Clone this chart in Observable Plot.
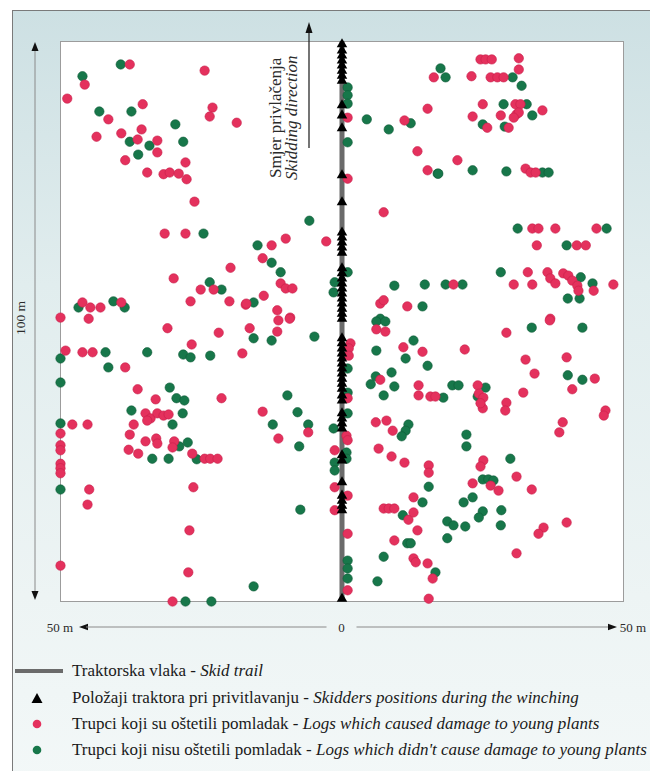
<!DOCTYPE html>
<html><head><meta charset="utf-8">
<script src="https://cdn.jsdelivr.net/npm/d3@7"></script>
<script src="https://cdn.jsdelivr.net/npm/@observablehq/plot@0.6"></script>
<style>
html,body{margin:0;padding:0;background:#fff;width:650px;height:771px;overflow:hidden;}
#frame{position:absolute;left:12px;top:10px;width:660px;height:780px;border-left:1px solid #7a7a7a;border-top:1px solid #7a7a7a;background:linear-gradient(#cde0e3 0%, #e1edee 35%, #edf4f4 75%, #f3f8f8 100%);}
#chart{position:absolute;left:0;top:0;}
#legend{position:absolute;left:12px;top:658px;font-family:"Liberation Serif",serif;font-size:17px;color:#1a1a1a;}
.row{display:flex;align-items:center;height:26.4px;white-space:nowrap;}
.row svg{flex:none;}
</style>
</head><body>
<div id="frame"></div>
<div id="chart"></div>
<div id="legend"></div>
<script>
// Field axes (m)
const xDomain = [-50, 50];
const yDomain = [0, 100];
const xLabels = ["50 m", "0", "50 m"];
const yLabel = "100 m";

// Logs which caused damage to young plants (red)
const redX = [
 -37.7,-24.4,-45.7,-48.8,-35.4,-41.5,-23.0,-23.5,-18.7,-43.6,-39.2,-35.6,-36.3,-32.8,-32.8,-38.5,-27.8,-34.6,-31.7,-30.6,-29.0,-27.6,-26.2,-31.5,-27.8,-19.8,-29.9,-25.1,-22.8,-26.9,-20.0,-17.1,-46.1,-44.7,-42.9,-39.2,-50.0,-45.0,
 1.0,1.0,-2.8,11.1,15.2,16.3,13.4,15.2,7.4,6.8,7.4,11.6,-12.5,-10.0,-14.1,-10.9,-10.0,-8.8,-13.9,-17.0,-11.5,-9.2,
 24.6,25.5,26.6,31.4,31.4,23.0,26.4,27.6,28.7,25.0,30.8,31.7,23.2,28.2,31.0,31.4,30.5,35.6,25.8,29.6,20.5,32.6,33.5,34.4,33.8,34.9,37.9,45.2,34.6,41.7,43.3,33.0,36.5,37.0,37.9,39.3,40.2,40.9,41.8,42.0,44.7,30.5,33.8,48.2,19.8,37.0,
 -31.0,-21.9,-49.1,-46.1,-44.3,-26.7,-17.7,-38.5,-36.3,-33.1,-21.4,-34.9,-34.0,-32.8,-31.7,-30.8,-34.6,-37.0,-47.9,-45.2,-50.0,-50.0,-50.0,-50.0,-50.0,-50.0,-37.7,-34.9,-33.0,-32.8,-29.8,-30.1,-37.9,-36.2,-26.6,-24.4,-23.4,-22.1,-44.9,-45.2,-26.4,-27.1,-50.0,-27.3,-30.1,
 -16.4,-11.3,-11.5,-9.3,-14.1,-6.0,-11.3,1.5,1.2,1.2,1.0,0.8,1.0,-1.3,-1.3,1.0,-1.3,1.0,1.0,6.1,7.7,10.9,14.3,6.8,13.6,13.6,15.7,16.6,6.0,7.9,9.0,6.5,8.8,11.1,15.4,15.4,12.7,7.4,8.3,9.3,11.8,12.7,13.4,9.3,12.7,13.1,15.2,16.1,15.4,
 29.2,36.9,21.8,32.6,39.9,34.2,44.9,40.9,32.2,24.1,24.3,25.1,25.0,24.6,29.2,29.0,46.8,46.5,39.2,38.6,25.1,24.6,23.2,26.4,27.8,31.0,33.7,35.8,34.9,39.9,31.0
];
const redY = [
 95.9,94.8,92.3,89.8,88.8,86.1,88.2,86.6,85.5,83.0,83.6,84.3,82.5,82.3,80.2,78.8,78.4,76.6,76.3,76.6,76.4,75.4,71.4,65.7,65.7,59.6,57.7,55.7,55.7,53.6,53.6,53.0,53.4,52.5,52.5,53.4,50.7,50.5,
 86.4,75.5,64.3,85.9,88.0,93.6,80.4,77.0,69.5,53.2,53.8,52.7,63.6,64.8,61.3,56.8,55.9,55.9,54.6,53.2,52.0,50.7,
 96.8,96.8,96.8,97.0,95.0,93.8,93.6,93.6,93.6,88.8,88.8,88.8,86.6,86.8,87.0,87.3,86.4,87.7,84.6,84.6,78.8,77.3,76.6,76.6,66.6,66.6,66.6,66.6,63.6,63.6,63.6,58.8,58.8,57.7,56.8,58.6,58.2,57.3,56.4,55.5,55.5,56.6,56.6,56.6,56.6,50.5,
 48.8,48.0,44.8,44.5,44.5,45.9,44.3,41.8,37.9,36.1,36.3,33.6,32.7,33.6,33.2,33.4,32.3,31.6,31.6,31.6,30.0,27.9,27.0,24.6,23.8,22.9,29.8,28.6,29.1,28.2,28.6,27.5,27.1,26.4,26.4,25.5,25.5,25.5,20.0,17.3,20.4,12.7,6.4,5.2,0.0,
 48.8,50.2,48.2,50.5,33.9,30.2,29.1,46.1,45.2,43.9,36.3,29.6,28.8,27.0,20.4,18.9,16.3,12.1,2.0,48.6,48.2,45.4,44.6,39.6,38.6,36.8,36.6,36.6,32.0,32.3,30.5,27.3,25.9,24.8,24.3,23.0,18.6,16.6,16.6,16.6,14.6,15.9,12.7,10.9,7.7,7.0,6.8,4.1,0.5,
 48.0,50.2,45.0,43.2,43.6,40.7,39.8,37.9,37.3,38.6,37.1,36.4,34.5,35.4,35.5,34.1,34.1,33.2,32.0,30.2,25.2,24.1,21.1,20.7,19.8,22.3,20.0,13.2,12.1,14.1,8.6
];

// Logs which didn't cause damage to young plants (green)
const greenX = [
 -39.3,-46.1,-43.1,-37.4,-29.6,-37.7,-34.2,-28.2,-36.2,-24.6,-23.5,-21.4,-46.8,-40.6,-38.6,
 1.0,1.0,1.0,1.0,-5.8,1.0,-1.3,-1.5,4.4,8.3,12.2,17.0,9.3,14.7,14.3,6.8,-15.0,-12.5,-10.9,-15.7,
 17.5,18.4,30.3,31.9,28.7,32.8,33.8,25.0,28.9,17.1,23.2,29.2,35.6,36.7,31.2,47.0,39.9,28.2,42.4,44.5,40.1,42.2,18.4,21.4,
 -50.0,-42.0,-34.6,-28.2,-26.9,-23.4,-41.5,-50.0,-30.6,-29.4,-28.0,-37.4,-28.3,-30.1,-50.0,-28.9,-27.4,-33.7,-30.8,-25.8,-50.0,-27.8,-23.2,
 -15.7,-12.5,-4.9,-9.7,-7.9,-12.3,-6.0,-7.6,-7.4,-15.7,1.0,1.0,1.0,-1.5,0.8,0.8,-1.3,-1.3,1.0,1.0,1.0,
 6.1,7.7,12.7,6.1,11.3,15.2,8.8,6.0,5.1,9.3,7.4,11.8,11.3,10.6,15.4,14.3,10.8,11.6,12.2,7.4,16.6,6.3,
 33.7,42.7,40.1,42.7,19.6,20.7,25.5,24.1,18.0,22.1,22.1,29.9,25.0,26.0,26.9,23.2,21.6,25.0,24.3,28.3,18.7,19.8,21.9,28.2,18.7
];
const greenY = [
 95.9,93.8,87.5,87.5,85.2,82.1,81.4,82.1,79.8,65.7,57.0,55.7,52.5,53.6,52.5,
 91.8,90.4,88.9,82.0,68.0,58.8,57.0,55.2,86.1,84.3,85.4,76.4,56.4,56.6,52.7,50.5,63.6,60.5,58.8,53.4,
 95.2,93.6,93.6,92.1,88.8,88.8,86.8,85.2,84.8,76.4,77.0,76.8,76.6,76.6,66.6,66.6,63.6,58.8,57.9,56.8,54.1,54.1,56.6,56.6,
 43.4,44.5,44.5,44.1,43.6,43.9,41.8,39.1,38.2,36.3,35.9,34.1,33.6,31.6,31.8,27.7,28.4,25.5,25.5,25.4,20.0,0.0,0.0,
 47.0,46.6,47.3,36.8,33.8,31.6,31.6,27.7,16.4,2.7,41.6,37.3,33.6,30.9,26.6,25.5,24.8,23.4,7.3,5.9,4.1,
 50.0,50.0,46.6,44.8,43.4,42.1,40.9,40.2,38.8,38.4,36.8,31.6,30.5,29.5,20.5,17.7,15.4,10.4,10.4,8.0,5.2,3.6,
 48.9,48.9,40.4,39.6,38.6,38.6,38.2,36.6,36.4,29.8,27.7,25.5,21.8,21.8,21.6,18.6,17.7,16.1,15.0,16.3,14.3,13.6,13.4,13.6,11.3
];

// Skidder positions during the winching (on the skid trail, x = 0)
const skidderY = [
 99.5,98.4,97.5,96.6,95.7,94.8,93.9,93.0,88.6,86.8,84.5,76.1,71.3,65.9,65.0,64.1,63.2,62.3,
 59.5,58.6,57.7,56.8,55.9,55.0,54.1,53.2,52.3,51.4,50.5,47.0,46.1,45.2,44.3,43.4,42.5,41.6,
 40.7,39.8,38.9,38.0,36.8,35.9,33.6,32.7,31.8,30.9,26.1,25.2,21.3,18.9,18.0,17.1,16.3,0.5
];
const trailX = [0];

const colors = {trail: "#6b6b6b", skidder: "#000000", damaged: "#e4315d", undamaged: "#17774a"};
const legendItems = [
 {key: "trail", hr: "Traktorska vlaka", en: "Skid trail"},
 {key: "skidder", hr: "Položaji traktora pri privitlavanju", en: "Skidders positions during the winching"},
 {key: "damaged", hr: "Trupci koji su oštetili pomladak", en: "Logs which caused damage to young plants"},
 {key: "undamaged", hr: "Trupci koji nisu oštetili pomladak", en: "Logs which didn't cause damage to young plants"}
];

const red = redX.map((x, i) => ({x, y: redY[i]}));
const green = greenX.map((x, i) => ({x, y: greenY[i]}));
const skidders = skidderY.map(y => ({x: trailX[0], y}));

const chart = Plot.plot({
  width: 650, height: 645,
  marginLeft: 60, marginRight: 27, marginTop: 41, marginBottom: 44,
  style: {background: "transparent", overflow: "visible"},
  x: {domain: xDomain, axis: null},
  y: {domain: yDomain, axis: null},
  marks: [
    Plot.frame({fill: "white", stroke: "#9c9c9c"}),
    Plot.ruleX(trailX, {stroke: colors.trail, strokeWidth: 5}),
    Plot.dot(green, {x: "x", y: "y", r: 4.7, fill: colors.undamaged, stroke: "#0f5a37", strokeWidth: 0.6}),
    Plot.dot(red, {x: "x", y: "y", r: 4.7, fill: colors.damaged, stroke: "#c81f4a", strokeWidth: 0.6}),
    Plot.dot(skidders, {x: "x", y: "y", symbol: "triangle", r: 3.9, fill: colors.skidder})
  ]
});
document.getElementById("chart").appendChild(chart);

// Annotations drawn from the scales
const sx = chart.scale("x"), sy = chart.scale("y");
const svgSel = d3.select(chart);
const serif = "Liberation Serif, serif";
const ann = svgSel.append("g").attr("text-anchor", "start");
const pxLeft = sx.apply(xDomain[0]), pxRight = sx.apply(xDomain[1]), pxMid = sx.apply(0);
const pxTop = sy.apply(yDomain[1]), pxBot = sy.apply(yDomain[0]);

// vertical 100 m arrow
const ax = pxLeft - 25;
ann.append("line").attr("x1", ax).attr("x2", ax).attr("y1", pxTop + 6).attr("y2", pxBot - 6).attr("stroke", "#8a8a8a").attr("stroke-width", 1);
ann.append("path").attr("d", `M${ax},${pxTop + 1}L${ax - 3.5},${pxTop + 10}L${ax + 3.5},${pxTop + 10}Z`).attr("fill", "#111");
ann.append("path").attr("d", `M${ax},${pxBot - 1}L${ax - 3.5},${pxBot - 10}L${ax + 3.5},${pxBot - 10}Z`).attr("fill", "#111");
ann.append("text").attr("transform", `translate(${ax - 10},${(pxTop + pxBot) / 2 - 3}) rotate(-90)`)
  .attr("text-anchor", "middle").attr("font-family", serif).attr("font-size", 13.5).attr("fill", "#2a2a2a").text(yLabel);

// horizontal 50 m arrows
const hy = pxBot + 26;
ann.append("text").attr("x", pxLeft + 13).attr("y", hy + 4.5).attr("text-anchor", "end").attr("font-family", serif).attr("font-size", 13).attr("fill", "#2a2a2a").text(xLabels[0]);
ann.append("path").attr("d", `M${pxLeft + 19},${hy}L${pxLeft + 28},${hy - 3.2}L${pxLeft + 28},${hy + 3.2}Z`).attr("fill", "#111");
ann.append("line").attr("x1", pxLeft + 26).attr("x2", pxMid - 15).attr("y1", hy).attr("y2", hy).attr("stroke", "#8a8a8a");
ann.append("text").attr("x", pxMid).attr("y", hy + 4.5).attr("text-anchor", "middle").attr("font-family", serif).attr("font-size", 13).attr("fill", "#2a2a2a").text(xLabels[1]);
ann.append("line").attr("x1", pxMid + 15).attr("x2", pxRight - 12).attr("y1", hy).attr("y2", hy).attr("stroke", "#8a8a8a");
ann.append("path").attr("d", `M${pxRight - 6},${hy}L${pxRight - 15},${hy - 3.2}L${pxRight - 15},${hy + 3.2}Z`).attr("fill", "#111");
ann.append("text").attr("x", pxRight + 23).attr("y", hy + 4.5).attr("text-anchor", "end").attr("font-family", serif).attr("font-size", 13).attr("fill", "#2a2a2a").text(xLabels[2]);

// skidding direction arrow
const dirX = pxMid - 32.5;
ann.append("line").attr("x1", dirX).attr("x2", dirX).attr("y1", pxTop + 107).attr("y2", pxTop - 8).attr("stroke", "#2a2a2a").attr("stroke-width", 1.3);
ann.append("path").attr("d", `M${dirX},${pxTop - 19}L${dirX - 3.5},${pxTop - 8}L${dirX + 3.5},${pxTop - 8}Z`).attr("fill", "#111");
ann.append("text").attr("transform", `translate(${dirX - 28},${pxTop + 137}) rotate(-90)`).attr("text-anchor", "start")
  .attr("font-family", serif).attr("font-size", 17).attr("fill", "#2a2a2a").text("Smjer privlačenja");
ann.append("text").attr("transform", `translate(${dirX - 12},${pxTop + 139}) rotate(-90)`).attr("text-anchor", "start")
  .attr("font-family", serif).attr("font-size", 17).attr("font-style", "italic").attr("fill", "#2a2a2a").text("Skidding direction");

// Legend (HTML below the SVG)
const legendSel = d3.select("#legend");
for (const item of legendItems) {
  const row = legendSel.append("div").attr("class", "row");
  const s = row.append("svg").attr("width", 60).attr("height", 26);
  if (item.key === "trail") s.append("line").attr("x1", 3).attr("x2", 51).attr("y1", 13).attr("y2", 13).attr("stroke", colors.trail).attr("stroke-width", 4);
  else if (item.key === "skidder") s.append("path").attr("d", "M25,8L19.5,18L30.5,18Z").attr("fill", colors.skidder);
  else s.append("circle").attr("cx", 25).attr("cy", 13).attr("r", 4.3).attr("fill", colors[item.key]);
  const t = row.append("span");
  t.append("span").text(item.hr + " - ");
  t.append("i").text(item.en);
}
</script>
</body></html>
